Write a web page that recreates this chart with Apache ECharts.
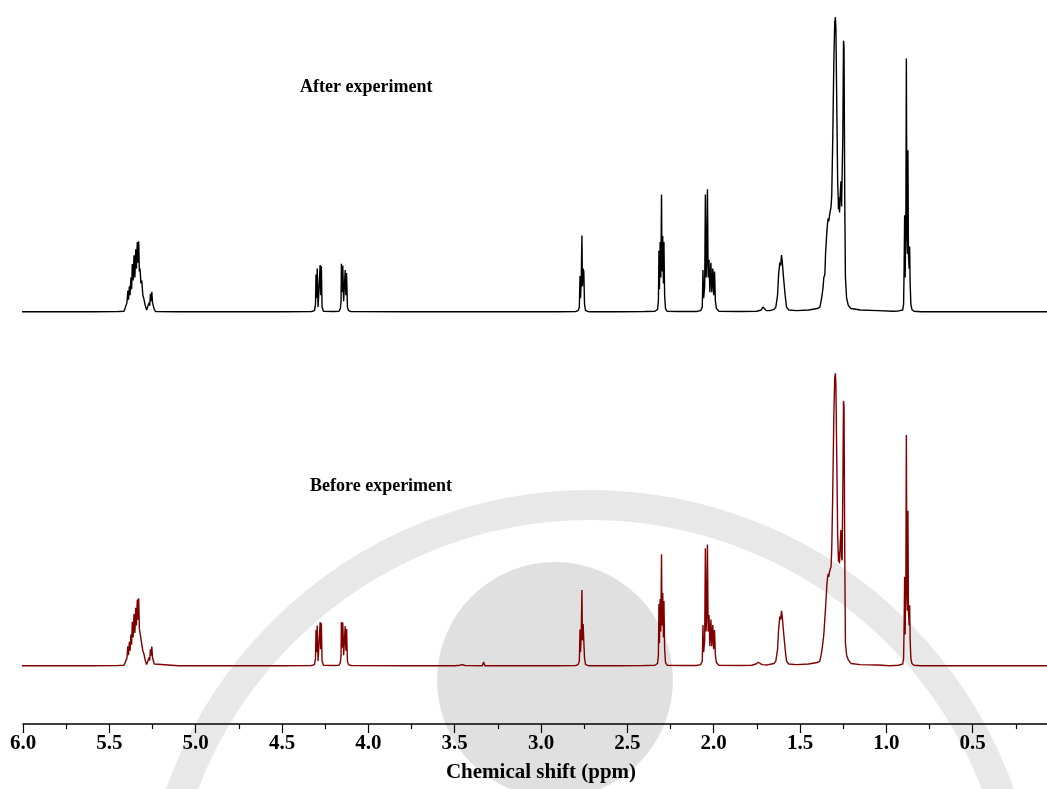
<!DOCTYPE html>
<html>
<head>
<meta charset="utf-8">
<title>1H NMR before / after</title>
<script src="https://cdn.jsdelivr.net/npm/echarts@6/dist/echarts.min.js"></script>
<style>
  html, body { margin: 0; padding: 0; background: #fff; }
  #main { width: 1047px; height: 789px; }
</style>
</head>
<body>
<div id="main"></div>
<script>
// x axis ticks (ppm)
var tickValues = [6.0, 5.5, 5.0, 4.5, 4.0, 3.5, 3.0, 2.5, 2.0, 1.5, 1.0, 0.5];

// spectrum after experiment [ppm, relative intensity]
var afterTrace = [
    [6.03, 0.004], [5.80, 0.004], [5.60, 0.004], [5.45, 0.005],
    // olefinic CH=CH + glycerol CH
    [5.415, 0.006], [5.405, 0.012], [5.398, 0.035], [5.393, 0.075], [5.389, 0.045], [5.384, 0.090],
    [5.380, 0.060], [5.375, 0.120], [5.371, 0.080], [5.367, 0.165], [5.362, 0.110], [5.357, 0.195],
    [5.352, 0.120], [5.347, 0.215], [5.343, 0.150], [5.338, 0.240], [5.334, 0.170], [5.330, 0.242],
    [5.326, 0.140], [5.322, 0.150], [5.317, 0.100], [5.312, 0.110], [5.306, 0.060], [5.300, 0.048],
    [5.292, 0.025], [5.284, 0.010], [5.276, 0.015], [5.270, 0.035], [5.266, 0.025], [5.262, 0.065],
    [5.258, 0.040], [5.254, 0.072], [5.250, 0.035], [5.246, 0.040], [5.240, 0.012], [5.232, 0.005],
    [5.10, 0.004], [4.80, 0.004], [4.50, 0.004], [4.33, 0.005],
    // glycerol CH2
    [4.312, 0.008], [4.306, 0.030], [4.303, 0.130], [4.300, 0.050], [4.296, 0.150], [4.291, 0.020],
    [4.283, 0.020], [4.279, 0.162], [4.276, 0.060], [4.272, 0.158], [4.268, 0.020], [4.260, 0.006],
    [4.20, 0.005], [4.17, 0.006],
    [4.162, 0.015], [4.158, 0.040], [4.156, 0.166], [4.152, 0.070], [4.148, 0.160], [4.143, 0.040],
    [4.138, 0.040], [4.134, 0.145], [4.130, 0.060], [4.126, 0.135], [4.121, 0.020], [4.115, 0.008],
    [4.10, 0.005], [3.80, 0.004], [3.50, 0.004], [3.20, 0.004], [2.90, 0.004], [2.80, 0.005],
    // bis-allylic
    [2.785, 0.008], [2.778, 0.020], [2.774, 0.125], [2.771, 0.050], [2.767, 0.110], [2.763, 0.262],
    [2.760, 0.090], [2.756, 0.150], [2.752, 0.140], [2.748, 0.030], [2.742, 0.008], [2.72, 0.004],
    [2.55, 0.004], [2.40, 0.005], [2.34, 0.006],
    // CH2-COO
    [2.325, 0.012], [2.320, 0.040], [2.317, 0.210], [2.314, 0.080], [2.310, 0.240], [2.306, 0.120],
    [2.302, 0.400], [2.299, 0.140], [2.295, 0.260], [2.291, 0.100], [2.288, 0.240], [2.284, 0.060],
    [2.279, 0.015], [2.27, 0.006], [2.20, 0.005], [2.10, 0.005],
    // allylic
    [2.075, 0.008], [2.066, 0.020], [2.062, 0.145], [2.058, 0.050], [2.052, 0.090], [2.048, 0.400],
    [2.044, 0.120], [2.040, 0.180], [2.036, 0.418], [2.032, 0.120], [2.027, 0.180], [2.022, 0.070],
    [2.016, 0.170], [2.011, 0.070], [2.005, 0.150], [2.000, 0.060], [1.995, 0.140], [1.990, 0.040],
    [1.984, 0.015], [1.97, 0.006], [1.85, 0.005], [1.75, 0.006],
    [1.725, 0.010], [1.715, 0.020], [1.705, 0.018], [1.695, 0.008], [1.675, 0.008],
    // CH2-C-COO
    [1.650, 0.012], [1.640, 0.020], [1.630, 0.060], [1.624, 0.130], [1.617, 0.170], [1.612, 0.160],
    [1.607, 0.196], [1.602, 0.170], [1.597, 0.130], [1.592, 0.125], [1.586, 0.060], [1.578, 0.020],
    [1.565, 0.010], [1.52, 0.008], [1.45, 0.010], [1.40, 0.015],
    // chain CH2
    [1.385, 0.020], [1.378, 0.040], [1.372, 0.060], [1.366, 0.090], [1.362, 0.120], [1.356, 0.130],
    [1.352, 0.200], [1.348, 0.240], [1.345, 0.270], [1.341, 0.300], [1.337, 0.320], [1.333, 0.310],
    [1.329, 0.330], [1.325, 0.330], [1.320, 0.360], [1.316, 0.400], [1.310, 0.600], [1.304, 0.850],
    [1.299, 0.980], [1.295, 1.000], [1.292, 0.960], [1.287, 0.700], [1.282, 0.450], [1.277, 0.350],
    [1.274, 0.390], [1.271, 0.340], [1.267, 0.400], [1.263, 0.445], [1.259, 0.360], [1.256, 0.360],
    [1.252, 0.600], [1.248, 0.920], [1.245, 0.900], [1.241, 0.400], [1.237, 0.120], [1.230, 0.050],
    [1.220, 0.025], [1.205, 0.015], [1.15, 0.010], [1.05, 0.008], [0.96, 0.006], [0.93, 0.007],
    // terminal CH3
    [0.905, 0.010], [0.900, 0.030], [0.897, 0.150], [0.894, 0.330], [0.891, 0.120], [0.887, 0.300],
    [0.884, 0.860], [0.881, 0.300], [0.878, 0.200], [0.875, 0.550], [0.872, 0.200], [0.868, 0.150],
    [0.865, 0.225], [0.862, 0.100], [0.858, 0.030], [0.852, 0.012], [0.84, 0.006], [0.80, 0.004],
    [0.60, 0.004], [0.40, 0.004], [0.20, 0.004], [0.05, 0.004]
];

// spectrum before experiment [ppm, relative intensity]
var beforeTrace = [
    [6.03, 0.004], [5.80, 0.004], [5.60, 0.004], [5.45, 0.005],
    [5.415, 0.006], [5.405, 0.012], [5.398, 0.030], [5.393, 0.070], [5.389, 0.040], [5.384, 0.085],
    [5.380, 0.055], [5.375, 0.110], [5.371, 0.075], [5.367, 0.153], [5.362, 0.100], [5.357, 0.180],
    [5.352, 0.115], [5.347, 0.200], [5.343, 0.140], [5.338, 0.228], [5.334, 0.160], [5.330, 0.232],
    [5.326, 0.130], [5.322, 0.125], [5.317, 0.095], [5.312, 0.100], [5.306, 0.055], [5.300, 0.045],
    [5.292, 0.022], [5.284, 0.008], [5.276, 0.012], [5.270, 0.032], [5.266, 0.022], [5.262, 0.060],
    [5.258, 0.038], [5.254, 0.069], [5.250, 0.032], [5.246, 0.036], [5.240, 0.010], [5.232, 0.005],
    [5.10, 0.004], [4.80, 0.004], [4.50, 0.004], [4.33, 0.005],
    [4.312, 0.008], [4.306, 0.028], [4.303, 0.125], [4.300, 0.050], [4.296, 0.140], [4.291, 0.020],
    [4.283, 0.020], [4.279, 0.152], [4.276, 0.060], [4.272, 0.148], [4.268, 0.020], [4.260, 0.006],
    [4.20, 0.005], [4.17, 0.006],
    [4.162, 0.015], [4.158, 0.040], [4.156, 0.152], [4.152, 0.065], [4.148, 0.150], [4.143, 0.040],
    [4.138, 0.040], [4.134, 0.138], [4.130, 0.055], [4.126, 0.128], [4.121, 0.020], [4.115, 0.008],
    [4.10, 0.005], [3.80, 0.004], [3.50, 0.004],
    [3.47, 0.006], [3.455, 0.008], [3.44, 0.005], [3.34, 0.004], [3.332, 0.017], [3.325, 0.004],
    [3.20, 0.004], [2.90, 0.004], [2.80, 0.005],
    [2.785, 0.008], [2.778, 0.020], [2.774, 0.127], [2.771, 0.050], [2.767, 0.110], [2.763, 0.260],
    [2.760, 0.090], [2.756, 0.145], [2.752, 0.142], [2.748, 0.030], [2.742, 0.008], [2.72, 0.004],
    [2.55, 0.004], [2.40, 0.005], [2.34, 0.006],
    [2.325, 0.012], [2.320, 0.040], [2.317, 0.213], [2.314, 0.080], [2.310, 0.230], [2.306, 0.120],
    [2.302, 0.381], [2.299, 0.140], [2.295, 0.250], [2.291, 0.100], [2.288, 0.223], [2.284, 0.060],
    [2.279, 0.015], [2.27, 0.006], [2.20, 0.005], [2.10, 0.005],
    [2.075, 0.008], [2.066, 0.020], [2.062, 0.142], [2.058, 0.050], [2.052, 0.090], [2.048, 0.401],
    [2.044, 0.120], [2.040, 0.180], [2.036, 0.414], [2.032, 0.120], [2.027, 0.176], [2.022, 0.070],
    [2.016, 0.160], [2.011, 0.070], [2.005, 0.142], [2.000, 0.060], [1.995, 0.125], [1.990, 0.040],
    [1.984, 0.015], [1.97, 0.006], [1.85, 0.005], [1.78, 0.006],
    [1.755, 0.010], [1.742, 0.016], [1.732, 0.014], [1.720, 0.008], [1.690, 0.007],
    [1.650, 0.012], [1.640, 0.020], [1.630, 0.060], [1.624, 0.125], [1.617, 0.170], [1.612, 0.160],
    [1.607, 0.190], [1.602, 0.165], [1.597, 0.130], [1.592, 0.125], [1.586, 0.060], [1.578, 0.020],
    [1.565, 0.010], [1.52, 0.008], [1.45, 0.010], [1.40, 0.015],
    [1.385, 0.020], [1.378, 0.040], [1.372, 0.060], [1.366, 0.090], [1.362, 0.110], [1.356, 0.115],
    [1.352, 0.200], [1.348, 0.240], [1.345, 0.271], [1.341, 0.300], [1.337, 0.315], [1.333, 0.305],
    [1.329, 0.322], [1.325, 0.330], [1.320, 0.339], [1.316, 0.400], [1.310, 0.600], [1.304, 0.850],
    [1.299, 0.975], [1.295, 0.992], [1.292, 0.950], [1.287, 0.700], [1.282, 0.450], [1.277, 0.356],
    [1.274, 0.390], [1.271, 0.350], [1.267, 0.420], [1.263, 0.463], [1.259, 0.368], [1.256, 0.360],
    [1.252, 0.600], [1.248, 0.899], [1.245, 0.880], [1.241, 0.400], [1.237, 0.081], [1.230, 0.040],
    [1.220, 0.024], [1.205, 0.012], [1.15, 0.008], [1.05, 0.007], [0.98, 0.004], [0.93, 0.006],
    [0.905, 0.010], [0.900, 0.030], [0.897, 0.140], [0.894, 0.305], [0.891, 0.110], [0.887, 0.280],
    [0.884, 0.784], [0.881, 0.280], [0.878, 0.190], [0.875, 0.528], [0.872, 0.190], [0.868, 0.140],
    [0.865, 0.209], [0.862, 0.090], [0.858, 0.030], [0.852, 0.012], [0.84, 0.006], [0.80, 0.004],
    [0.60, 0.004], [0.40, 0.004], [0.20, 0.004], [0.05, 0.004]
];

var traceNames = ['After experiment', 'Before experiment'];
var traceColors = ['#000000', '#800000'];

var myChart = echarts.init(document.getElementById('main'));

function xAxisBase(gridIndex) {
    return {
        type: 'value',
        gridIndex: gridIndex,
        min: 0,
        max: 6,
        interval: 0.5,
        inverse: true,
        splitLine: { show: false }
    };
}

var topAxis = xAxisBase(0);
topAxis.show = false;

var bottomAxis = xAxisBase(1);
bottomAxis.offset = 57;
bottomAxis.axisLine = { show: true, onZero: false, lineStyle: { color: '#000', width: 1.5 } };
bottomAxis.axisTick = { show: true, length: 9, lineStyle: { color: '#000', width: 1.2 } };
bottomAxis.minorTick = { show: true, splitNumber: 2, length: 5, lineStyle: { color: '#000', width: 1.2 } };
bottomAxis.axisLabel = {
    margin: 9,
    color: '#000',
    fontFamily: 'Liberation Serif',
    fontWeight: 'bold',
    fontSize: 21,
    formatter: function (v) {
        return tickValues.indexOf(v) >= 0 ? v.toFixed(1) : '';
    }
};
bottomAxis.name = 'Chemical shift (ppm)';
bottomAxis.nameLocation = 'middle';
bottomAxis.nameGap = 38;
bottomAxis.nameTextStyle = {
    color: '#000',
    fontFamily: 'Liberation Serif',
    fontWeight: 'bold',
    fontSize: 21
};

var option = {
    animation: false,
    backgroundColor: '#fff',
    grid: [
        // plot wider than the window: 0 ppm falls just past the right edge
        { left: 23, width: 1036, top: 17, height: 296, outerBoundsMode: 'none' },
        { left: 23, width: 1036, top: 371, height: 296, outerBoundsMode: 'none' }
    ],
    xAxis: [topAxis, bottomAxis],
    yAxis: [
        { type: 'value', gridIndex: 0, min: 0, max: 1, show: false },
        { type: 'value', gridIndex: 1, min: 0, max: 1, show: false }
    ],
    graphic: [
        // faint institute watermark behind the spectra
        { type: 'circle', z: -10, silent: true, shape: { cx: 590, cy: 940, r: 435 },
          style: { fill: null, stroke: '#e8e8e8', lineWidth: 30 } },
        { type: 'circle', z: -10, silent: true, shape: { cx: 555, cy: 680, r: 118 }, style: { fill: '#e0e0e0' } },
        { type: 'text', z: 100, left: 300, top: 78,
          style: { text: traceNames[0], fill: '#000', font: 'bold 18px "Liberation Serif"' } },
        { type: 'text', z: 100, left: 310, top: 477,
          style: { text: traceNames[1], fill: '#000', font: 'bold 18px "Liberation Serif"' } }
    ],
    series: [
        {
            name: traceNames[0],
            type: 'line',
            xAxisIndex: 0,
            yAxisIndex: 0,
            data: afterTrace,
            showSymbol: false,
            clip: false,
            lineStyle: { color: traceColors[0], width: 1.4 }
        },
        {
            name: traceNames[1],
            type: 'line',
            xAxisIndex: 1,
            yAxisIndex: 1,
            data: beforeTrace,
            showSymbol: false,
            clip: false,
            lineStyle: { color: traceColors[1], width: 1.4 }
        }
    ]
};

myChart.setOption(option);
</script>
</body>
</html>
